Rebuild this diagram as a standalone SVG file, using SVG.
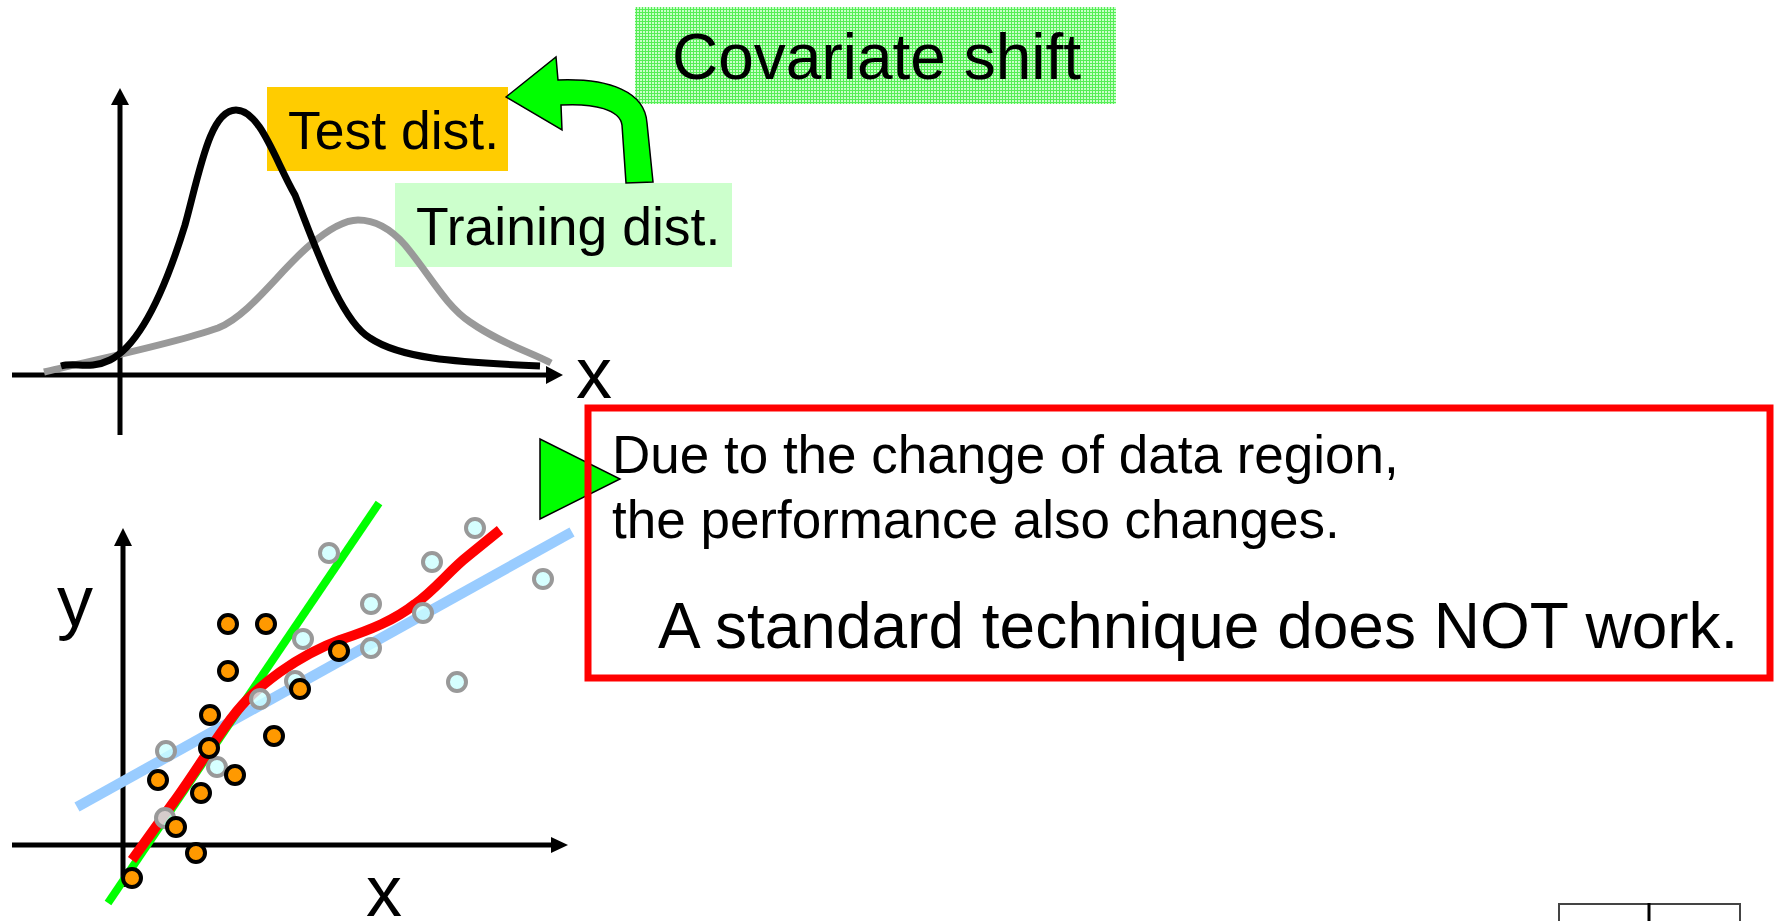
<svg xmlns="http://www.w3.org/2000/svg" width="1775" height="921" viewBox="0 0 1775 921">
<style>
.t{font-family:"Liberation Sans",Arial,sans-serif;fill:#000}
.ax{stroke:#000;stroke-width:5;fill:none}
.o{fill:#FF9900;stroke:#000;stroke-width:4}
.c{fill:#CCFFFF;fill-opacity:0.8;stroke:#999999;stroke-width:4}
</style>
<defs>
<pattern id="grid" width="3" height="3" patternUnits="userSpaceOnUse">
<rect width="3" height="3" fill="#C8FFC8"/>
<rect width="3" height="1" fill="#55EE55"/>
<rect width="1" height="3" fill="#55EE55"/>
</pattern>
</defs>
<rect width="1775" height="921" fill="#fff"/>

<g id="test-dist">
<rect x="267" y="87" width="241" height="84" fill="#FFCC00"/>
<text class="t" x="288" y="149" font-size="53.5">Test dist.</text>
</g>

<g id="training-dist">
<rect x="395" y="183" width="337" height="84" fill="#CCFFCC"/>
<text class="t" x="416" y="245" font-size="53.5">Training dist.</text>
</g>

<g id="covariate-shift">
<rect x="635" y="7" width="481" height="97" fill="url(#grid)"/>
<text class="t" x="672" y="79" font-size="64">Covariate shift</text>
</g>

<g id="top-plot">
<line class="ax" x1="120" y1="100" x2="120" y2="435"/>
<polygon points="120,88 111,105 129,105" fill="#000"/>
<line class="ax" x1="12" y1="375" x2="550" y2="375"/>
<polygon points="563,375 546,366 546,384" fill="#000"/>
<path d="M44,372 C80,363 170,345 218,328 C250,315 280,270 310,245 C330,228 345,220 358,220 C375,220 390,228 405,245 C430,275 445,305 470,322 C500,343 530,352 551,363" fill="none" stroke="#999999" stroke-width="7"/>
<path d="M61,366 C75,362 90,370 110,360 C140,345 165,290 185,225 C200,170 210,110 236,110 C260,110 275,160 295,195 C315,245 340,320 370,338 C400,358 450,362 540,366" fill="none" stroke="#000" stroke-width="7"/>
<text class="t" x="576" y="398" font-size="72">x</text>
</g>

<g id="connectors">
<path id="shift-arrow" d="M506,97 L556,57 L558,80 C610,78 645,92 647,123 L653,182 L626,183 L622,125 C620,110 595,103 561,105 L562,130 Z" fill="#00FF00" stroke="#000" stroke-width="1.5" stroke-linejoin="miter"/>
<polygon id="pointer" points="540,439 540,519 620,479" fill="#00FF00" stroke="#000" stroke-width="1.5"/>
</g>

<g id="message-box">
<rect x="588" y="408" width="1182" height="270" fill="none" stroke="#FF0000" stroke-width="7"/>
<text class="t" x="612" y="473" font-size="53">Due to the change of data region,</text>
<text class="t" x="612" y="538" font-size="53">the performance also changes.</text>
<text class="t" x="658" y="648" font-size="64">A standard technique does NOT work.</text>
</g>

<g id="bottom-plot">
<line class="ax" x1="123" y1="540" x2="123" y2="887"/>
<polygon points="123,528 114,546 132,546" fill="#000"/>
<line class="ax" x1="12" y1="845" x2="555" y2="845"/>
<polygon points="568,845 551,837 551,853" fill="#000"/>
<line x1="77" y1="807" x2="572" y2="532" stroke="#99CCFF" stroke-width="10.5"/>
<line x1="108" y1="903" x2="379" y2="503" stroke="#00FF00" stroke-width="8"/>
<path d="M132,860 L173,803 C190,780 205,755 225,727 C240,705 255,690 280,672 C300,658 318,648 340,640 C370,630 395,620 415,604 C435,590 450,570 468,556 L500,530" fill="none" stroke="#FF0000" stroke-width="10"/>
<g id="training-points">
<circle class="c" cx="329" cy="553" r="9"/>
<circle class="c" cx="475" cy="528" r="9"/>
<circle class="c" cx="432" cy="562" r="9"/>
<circle class="c" cx="543" cy="579" r="9"/>
<circle class="c" cx="371" cy="604" r="9"/>
<circle class="c" cx="423" cy="613" r="9"/>
<circle class="c" cx="303" cy="639" r="9"/>
<circle class="c" cx="371" cy="648" r="9"/>
<circle class="c" cx="457" cy="682" r="9"/>
<circle class="c" cx="295" cy="681" r="9"/>
<circle class="c" cx="260" cy="699" r="9"/>
<circle class="c" cx="166" cy="751" r="9"/>
<circle class="c" cx="217" cy="767" r="9"/>
<circle class="c" cx="165" cy="818" r="9"/>
</g>
<g id="test-points">
<circle class="o" cx="228" cy="624" r="9"/>
<circle class="o" cx="266" cy="624" r="9"/>
<circle class="o" cx="228" cy="671" r="9"/>
<circle class="o" cx="210" cy="715" r="9"/>
<circle class="o" cx="339" cy="651" r="9"/>
<circle class="o" cx="300" cy="689" r="9"/>
<circle class="o" cx="274" cy="736" r="9"/>
<circle class="o" cx="209" cy="748" r="9"/>
<circle class="o" cx="158" cy="780" r="9"/>
<circle class="o" cx="235" cy="775" r="9"/>
<circle class="o" cx="201" cy="793" r="9"/>
<circle class="o" cx="176" cy="827" r="9"/>
<circle class="o" cx="196" cy="853" r="9"/>
<circle class="o" cx="132" cy="878" r="9"/>
</g>
<text class="t" x="57" y="626" font-size="72">y</text>
<text class="t" x="366" y="916" font-size="72">x</text>
</g>

<g id="corner-box" fill="none">
<path d="M1559,921 L1559,904 L1740,904 L1740,921" stroke="#444" stroke-width="2"/>
<line x1="1649" y1="903" x2="1649" y2="921" stroke="#000" stroke-width="3"/>
</g>
</svg>
